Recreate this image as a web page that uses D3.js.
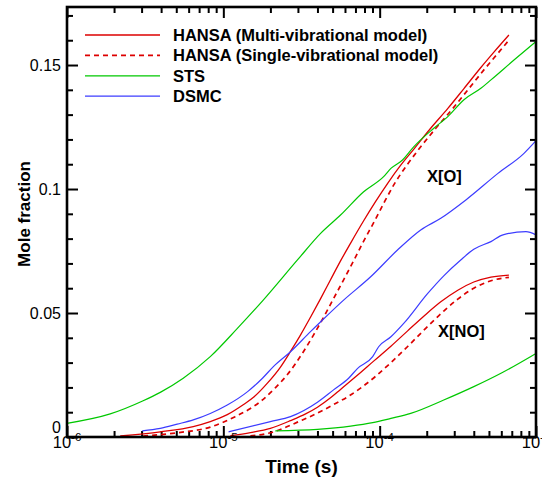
<!DOCTYPE html>
<html>
<head>
<meta charset="utf-8">
<script src="https://cdn.jsdelivr.net/npm/d3@7"></script>
<style>
  body { margin: 0; background: #fff; }
  svg { display: block; font-family: "Liberation Sans", Arial, Helvetica, sans-serif; }
</style>
</head>
<body>
<div id="chart"></div>
<script>
// time (s), mole fraction
const hansaMultiO = [
  [2.19e-6,0.0004],[3.95e-6,0.0021],[6.42e-6,0.0042],[8.25e-6,0.0062],[1.06e-5,0.0090],
  [1.34e-5,0.0130],[1.56e-5,0.0160],[1.92e-5,0.0218],[2.32e-5,0.0282],[2.69e-5,0.0345],
  [3.12e-5,0.0412],[3.61e-5,0.0483],[4.19e-5,0.0558],[4.85e-5,0.0634],[5.62e-5,0.0710],
  [6.52e-5,0.0782],[7.9e-5,0.0872],[9.43e-5,0.0950],[1.125e-4,0.1023],[1.36e-4,0.1095],
  [1.65e-4,0.1160],[2.12e-4,0.1245],[2.73e-4,0.1325],[3.46e-4,0.1405],[4.44e-4,0.1490],
  [5.38e-4,0.1552],[6.71e-4,0.1621]
];
const hansaSingleO = [
  [3.07e-6,0.0004],[5.07e-6,0.0017],[8.25e-6,0.0040],[1.19e-5,0.0082],[1.49e-5,0.0115],
  [1.8e-5,0.0152],[2.15e-5,0.0198],[2.57e-5,0.0252],[3.26e-5,0.0345],[3.78e-5,0.0412],
  [4.38e-5,0.0483],[5.07e-5,0.0558],[5.88e-5,0.0634],[6.81e-5,0.0710],[7.78e-5,0.0782],
  [9.29e-5,0.0872],[1.077e-4,0.0950],[1.248e-4,0.1023],[1.489e-4,0.1095],[1.778e-4,0.1160],
  [2.286e-4,0.1245],[2.938e-4,0.1325],[3.72e-4,0.1405],[4.78e-4,0.1490],[5.79e-4,0.1552],
  [6.71e-4,0.1600]
];
const stsO = [
  [1e-6,0.0055],[1.89e-6,0.0093],[3.07e-6,0.0146],[3.95e-6,0.0180],[5.54e-6,0.0237],
  [8.25e-6,0.0324],[1.23e-5,0.0438],[1.8e-5,0.0552],[2.98e-5,0.0714],[4.19e-5,0.0821],
  [5.62e-5,0.0895],[7.9e-5,0.0989],[1.06e-4,0.1050],[1.18e-4,0.1083],[1.4e-4,0.1117],
  [1.65e-4,0.1170],[2.22e-4,0.1245],[2.73e-4,0.1292],[3.46e-4,0.1360],[4.44e-4,0.1406],
  [5.15e-4,0.1440],[7.23e-4,0.1520],[1e-3,0.1595]
];
const dsmcO = [
  [3.03e-6,0.0025],[3.95e-6,0.0035],[5.07e-6,0.0052],[6.42e-6,0.0069],[8.25e-6,0.0095],
  [1.06e-5,0.0129],[1.43e-5,0.0183],[1.78e-5,0.0237],[2.09e-5,0.0284],[2.69e-5,0.0344],
  [3.61e-5,0.0425],[4.31e-5,0.0472],[5.88e-5,0.0552],[8.76e-5,0.0646],[1.3e-4,0.0754],
  [1.83e-4,0.0835],[2.46e-4,0.0882],[3.56e-4,0.0956],[5.71e-4,0.1063],[8.38e-4,0.1144],
  [1e-3,0.1195]
];
const hansaMultiNO = [
  [1.11e-5,0.0005],[1.49e-5,0.0018],[2.0e-5,0.0035],[2.69e-5,0.0066],[3.36e-5,0.0093],
  [4.0e-5,0.0120],[4.85e-5,0.0158],[5.62e-5,0.0192],[7.23e-5,0.0250],[9.15e-5,0.0306],
  [1.18e-4,0.0366],[1.51e-4,0.0428],[1.915e-4,0.0487],[2.46e-4,0.0545],[3.16e-4,0.0592],
  [4.0e-4,0.0625],[5.15e-4,0.0645],[6.71e-4,0.0653]
];
const hansaSingleNO = [
  [1.49e-5,0.0005],[2.0e-5,0.0017],[2.42e-5,0.0035],[2.98e-5,0.0060],[3.61e-5,0.0083],
  [4.38e-5,0.0109],[5.22e-5,0.0135],[6.24e-5,0.0162],[7.78e-5,0.0203],[9.43e-5,0.0245],
  [1.18e-4,0.0300],[1.51e-4,0.0365],[1.97e-4,0.0438],[2.57e-4,0.0508],[3.16e-4,0.0556],
  [4.0e-4,0.0600],[5.15e-4,0.0630],[6.71e-4,0.0644]
];
const stsNO = [
  [2.15e-5,0.0025],[4.0e-5,0.0031],[6.52e-5,0.0044],[9.02e-5,0.0058],[1.18e-4,0.0075],
  [1.58e-4,0.0095],[2.57e-4,0.0149],[4.0e-4,0.0203],[5.97e-4,0.0257],[1e-3,0.0337]
];
const dsmcNO = [
  [1.08e-5,0.0021],[2.0e-5,0.0062],[2.69e-5,0.0082],[4.0e-5,0.0140],[5.07e-5,0.0190],
  [6.33e-5,0.0237],[7.23e-5,0.0277],[9.02e-5,0.0324],[9.85e-5,0.0364],[1.18e-4,0.0404],
  [1.425e-4,0.0458],[2.03e-4,0.0579],[2.57e-4,0.0650],[3.3e-4,0.0714],[4.0e-4,0.0757],
  [5.15e-4,0.0788],[6.15e-4,0.0815],[8.63e-4,0.0828],[1e-3,0.0815]
];

const legendNames = ["HANSA (Multi-vibrational model)", "HANSA (Single-vibrational model)", "STS", "DSMC"];
const xMajor = [1e-6, 1e-5, 1e-4, 1e-3];
const xExponents = ["-6", "-5", "-4", "-3"];
const yMajor = [0, 0.05, 0.1, 0.15];
const yLabels = ["0", "0.05", "0.1", "0.15"];

const RED = "#dd0000", GREEN = "#00c800", BLUE = "#3c3cff";
const styles = [
  {color: RED, dash: null, w: 1.3},
  {color: RED, dash: "5,4", w: 1.7},
  {color: GREEN, dash: null, w: 1.2},
  {color: BLUE, dash: null, w: 1.2}
];

var width = 542, height = 479;
var box = {left: 67, right: 536, top: 7, bottom: 437};

var svg = d3.select("#chart").append("svg")
  .attr("width", width)
  .attr("height", height);

var x = d3.scaleLog().domain([1e-6, 1e-3]).range([box.left, box.right]);
var y = d3.scaleLinear().domain([0, 0.1734]).range([box.bottom, box.top]);

// minor ticks
var xMinor = [];
xMajor.slice(0, 3).forEach(function(d) { for (var k = 2; k <= 9; k++) xMinor.push(d * k); });
var yMinor = d3.range(1, 18).map(function(i) { return i / 100; })
  .filter(function(v) { return Math.abs(v * 20 - Math.round(v * 20)) > 1e-6; });

function tickAxis(axisFn, scale, vals, size, tr) {
  var g = svg.append("g").attr("transform", tr)
    .call(axisFn(scale).tickValues(vals).tickSize(-size).tickFormat(""));
  g.select(".domain").remove();
  g.selectAll(".tick line").attr("stroke", "#000").attr("stroke-width", 2);
  return g;
}
tickAxis(d3.axisBottom, x, xMajor, 11, "translate(0," + box.bottom + ")");
tickAxis(d3.axisBottom, x, xMinor, 6, "translate(0," + box.bottom + ")");
tickAxis(d3.axisTop, x, xMajor, 11, "translate(0," + box.top + ")");
tickAxis(d3.axisTop, x, xMinor, 6, "translate(0," + box.top + ")");
tickAxis(d3.axisLeft, y, yMajor, 11, "translate(" + box.left + ",0)");
tickAxis(d3.axisLeft, y, yMinor, 6, "translate(" + box.left + ",0)");
tickAxis(d3.axisRight, y, yMajor, 11, "translate(" + box.right + ",0)");
tickAxis(d3.axisRight, y, yMinor, 6, "translate(" + box.right + ",0)");

// curves
var line = d3.line()
  .x(function(d) { return x(d[0]); })
  .y(function(d) { return y(d[1]); })
  .curve(d3.curveMonotoneX);

var series = [
  [hansaMultiO, 0], [hansaMultiNO, 0],
  [hansaSingleO, 1], [hansaSingleNO, 1],
  [stsO, 2], [stsNO, 2],
  [dsmcO, 3], [dsmcNO, 3]
];
svg.append("g").selectAll("path")
  .data(series)
  .enter()
  .append("path")
  .attr("d", function(d) { return line(d[0]); })
  .attr("fill", "none")
  .attr("stroke", function(d) { return styles[d[1]].color; })
  .attr("stroke-width", function(d) { return styles[d[1]].w; })
  .attr("stroke-dasharray", function(d) { return styles[d[1]].dash; });

// frame
svg.append("rect")
  .attr("x", box.left).attr("y", box.top)
  .attr("width", box.right - box.left).attr("height", box.bottom - box.top)
  .attr("fill", "none").attr("stroke", "#000").attr("stroke-width", 2.6);

// x tick labels: 10^n
var xl = svg.append("g").selectAll("text")
  .data(xMajor)
  .enter()
  .append("text")
  .attr("x", function(d) { return x(d); })
  .attr("y", 448)
  .attr("text-anchor", "middle");
xl.append("tspan").attr("font-size", 16.5).text("10");
xl.append("tspan").attr("font-size", 11.5).attr("dy", -7)
  .text(function(d, i) { return xExponents[i]; });

// y tick labels
svg.append("g").selectAll("text")
  .data(yMajor)
  .enter()
  .append("text")
  .attr("x", box.left - 6)
  .attr("y", function(d) { return d === 0 ? 433 : y(d) + 6; })
  .attr("text-anchor", "end")
  .attr("font-size", 16)
  .text(function(d, i) { return yLabels[i]; });

// axis titles
svg.append("text")
  .attr("x", (box.left + box.right) / 2).attr("y", 473)
  .attr("text-anchor", "middle")
  .attr("font-size", 19).attr("font-weight", "bold")
  .text("Time (s)");
svg.append("text")
  .attr("transform", "translate(30,214) rotate(-90)")
  .attr("text-anchor", "middle")
  .attr("font-size", 17).attr("font-weight", "bold")
  .text("Mole fraction");

// legend
var leg = svg.append("g").selectAll("g")
  .data(legendNames)
  .enter()
  .append("g")
  .attr("transform", function(d, i) { return "translate(0," + (35 + i * 20.4) + ")"; });
leg.append("line")
  .attr("x1", 85).attr("x2", 160)
  .attr("stroke", function(d, i) { return styles[i].color; })
  .attr("stroke-width", function(d, i) { return styles[i].w; })
  .attr("stroke-dasharray", function(d, i) { return styles[i].dash; });
leg.append("text")
  .attr("x", 173).attr("y", 6)
  .attr("font-size", 16.5).attr("font-weight", "bold")
  .text(function(d) { return d; });

// species labels
svg.append("text").attr("x", 427).attr("y", 182)
  .attr("font-size", 16.5).attr("font-weight", "bold").text("X[O]");
svg.append("text").attr("x", 438).attr("y", 337)
  .attr("font-size", 16.5).attr("font-weight", "bold").text("X[NO]");
</script>
</body>
</html>
